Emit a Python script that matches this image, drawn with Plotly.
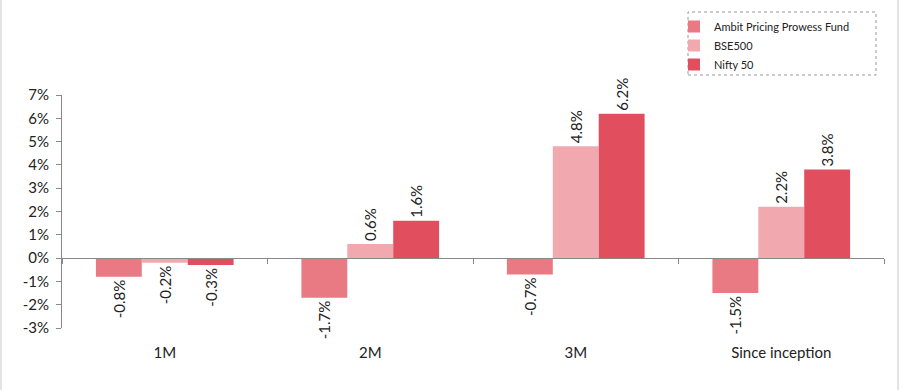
import plotly.graph_objects as go

categories = ["1M", "2M", "3M", "Since inception"]
series_names = ["Ambit Pricing Prowess Fund", "BSE500", "Nifty 50"]
ambit = [-0.8, -1.7, -0.7, -1.5]
bse500 = [-0.2, 0.6, 4.8, 2.2]
nifty = [-0.3, 1.6, 6.2, 3.8]
colors = ["#E97983", "#F1A8AE", "#E14F5F"]
y_ticks = [-3, -2, -1, 0, 1, 2, 3, 4, 5, 6, 7]
y_tick_labels = [f"{v}%" for v in y_ticks]

FONT = "Lato, 'Open Sans', sans-serif"
fig = go.Figure()
for name, vals, col in zip(series_names, [ambit, bse500, nifty], colors):
    fig.add_trace(go.Bar(
        x=categories, y=vals, name=name, marker_color=col,
        marker_line_width=0,
        text=[f"{v:.1f}%" for v in vals], textposition="outside",
        textangle=-90, textfont=dict(size=15, color="#222", family=FONT),
        cliponaxis=False,
    ))
# invisible trace to carry the zero-level category axis
fig.add_trace(go.Scatter(x=categories, y=[0]*4, xaxis="x2", mode="markers",
                         marker=dict(opacity=0), showlegend=False, hoverinfo="skip"))

L, R, T, B = 62, 16, 95, 62
W, H = 900, 390
pw, ph = W - L - R, H - T - B
zero_frac = 3 / 10

fig.update_layout(
    width=W, height=H, margin=dict(l=L, r=R, t=T, b=B, autoexpand=False),
    paper_bgcolor="white", plot_bgcolor="white",
    barmode="group", bargap=0.33, bargroupgap=0,
    font=dict(family=FONT, size=15, color="#222"),
    xaxis=dict(type="category", showline=False, ticks="", showgrid=False,
               tickfont=dict(size=15), ticklabelstandoff=14, automargin=False),
    xaxis2=dict(type="category", overlaying="x", anchor="free", position=zero_frac,
                matches="x", showline=True, linecolor="#888", linewidth=1,
                ticks="outside", tickson="boundaries", ticklen=5, tickcolor="#888",
                showticklabels=False, showgrid=False, automargin=False),
    yaxis=dict(range=[-3, 7], tickvals=y_ticks, ticktext=y_tick_labels, showgrid=False,
               zeroline=False, showline=True, linecolor="#888", linewidth=1,
               ticks="outside", ticklen=5, tickcolor="#888",
               tickfont=dict(size=15), ticklabelstandoff=4, automargin=False),
    legend=dict(x=(674 - L) / pw, y=(H - B - 12) / ph, xanchor="left", yanchor="top",
                font=dict(size=11, color="#222"), bgcolor="rgba(0,0,0,0)",
                borderwidth=0, tracegroupgap=0, itemsizing="constant", itemwidth=30),
    showlegend=True,
)
# dashed legend frame
fig.add_shape(type="rect", xref="paper", yref="paper",
              x0=(688 - L) / pw, x1=(876 - L) / pw,
              y0=(H - B - 75) / ph, y1=(H - B - 12) / ph,
              line=dict(color="#999", width=1, dash="dot"))
# outer frame lines
for px in (1, 898):
    fig.add_shape(type="line", xref="paper", yref="paper",
                  x0=(px - L) / pw, x1=(px - L) / pw,
                  y0=(H - B - H) / ph, y1=(H - B) / ph,
                  line=dict(color="#C8C8C8", width=1))

fig.write_html("out.html", config={"displayModeBar": False},
               post_script="document.body.style.margin='0';document.body.style.overflow='hidden';")
